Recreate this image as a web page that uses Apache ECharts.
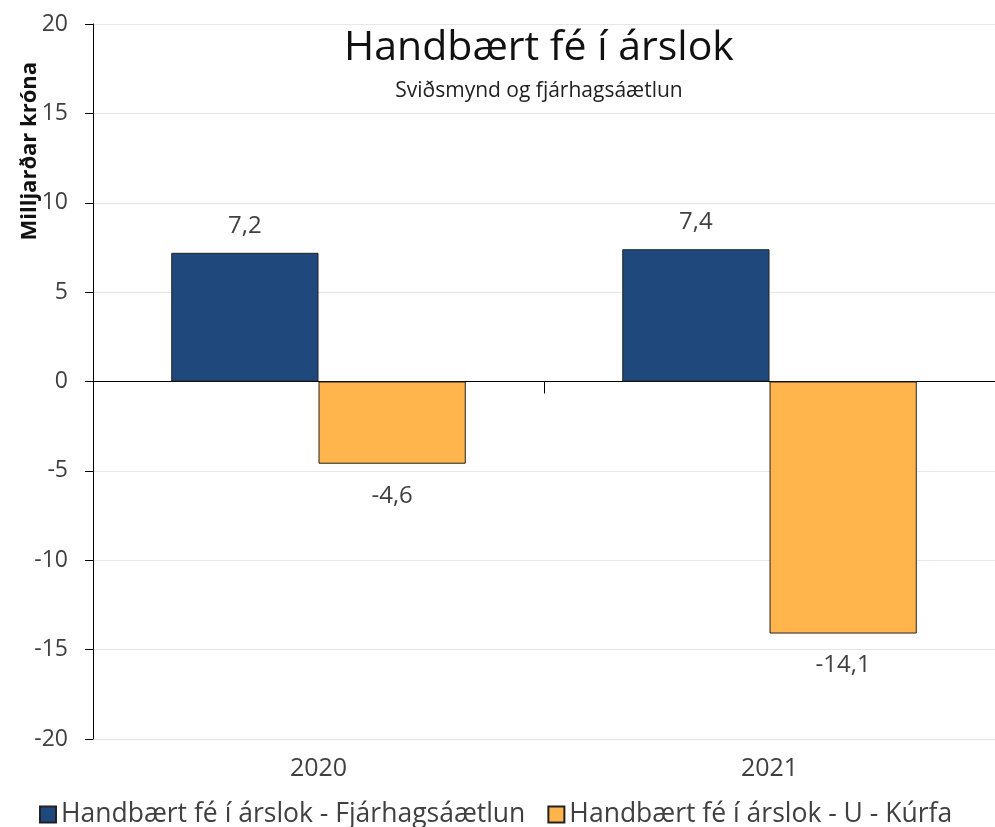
<!DOCTYPE html>
<html>
<head>
<meta charset="utf-8">
<script src="https://cdn.jsdelivr.net/npm/echarts@6/dist/echarts.min.js"></script>
<style>
  html, body { margin: 0; padding: 0; background: #fff; }
  #main { width: 995px; height: 827px; }
</style>
</head>
<body>
<div id="main"></div>
<script>
var chartDom = document.getElementById('main');
var myChart = echarts.init(chartDom);
var option;

const years = ['2020', '2021'];
const planValues = [7.2, 7.4];
const curveValues = [-4.6, -14.1];
const seriesNames = ['Handbært fé í árslok - Fjárhagsáætlun', 'Handbært fé í árslok - U - Kúrfa'];

const blue = '#1f497d';
const orange = '#ffb54c';
const font = 'Open Sans';
const textColor = '#404040';

function fmt(p) {
  return p.value.toFixed(1).replace('.', ',');
}

option = {
  animation: false,
  textStyle: { fontFamily: font },
  title: {
    text: 'Handbært fé í árslok',
    subtext: 'Sviðsmynd og fjárhagsáætlun',
    left: 534,
    textAlign: 'center',
    top: 23,
    itemGap: 12,
    textStyle: { fontFamily: font, fontSize: 41, fontWeight: 'normal', color: '#111' },
    subtextStyle: { fontFamily: font, fontSize: 21, color: '#222' }
  },
  graphic: [
    {
      type: 'text',
      left: 19,
      top: 62,
      rotation: Math.PI / 2,
      style: { text: 'Milljarðar króna', font: 'bold 22px "Open Sans"', fill: '#111' }
    }
  ],
  legend: {
    left: 34,
    top: 796,
    itemWidth: 16,
    itemHeight: 16,
    itemGap: 22,
    icon: 'rect',
    textStyle: { fontFamily: font, fontSize: 26.5, color: textColor },
    data: seriesNames
  },
  grid: { left: 93, right: 0, top: 24, bottom: 88 },
  xAxis: [
    {
      type: 'category',
      data: years,
      axisLine: { show: false, onZero: false },
      axisTick: { show: false },
      axisLabel: { fontSize: 25, color: textColor, margin: 17 }
    },
    {
      type: 'category',
      data: years,
      position: 'bottom',
      axisLine: { onZero: true, lineStyle: { color: '#000', width: 1 } },
      axisTick: { show: true, length: 12, lineStyle: { color: '#000' } },
      axisLabel: { show: false }
    }
  ],
  yAxis: {
    type: 'value',
    min: -20,
    max: 20,
    interval: 5,
    axisLine: { show: true, lineStyle: { color: '#000' } },
    axisTick: { show: true, length: 8, lineStyle: { color: '#000' } },
    axisLabel: { fontSize: 23, color: textColor, margin: 25 },
    splitLine: { lineStyle: { color: '#e6e6e6' } }
  },
  series: [
    {
      name: seriesNames[0],
      type: 'bar',
      data: planValues,
      barGap: '0%',
      barCategoryGap: '34.7%',
      itemStyle: { color: blue, borderColor: '#222', borderWidth: 1 },
      label: { show: true, position: 'top', distance: 15, formatter: fmt, fontSize: 24, color: textColor }
    },
    {
      name: seriesNames[1],
      type: 'bar',
      data: curveValues,
      itemStyle: { color: orange, borderColor: '#222', borderWidth: 1 },
      label: { show: true, position: 'bottom', distance: 20, formatter: fmt, fontSize: 24, color: textColor }
    }
  ]
};

myChart.setOption(option);
</script>
</body>
</html>
